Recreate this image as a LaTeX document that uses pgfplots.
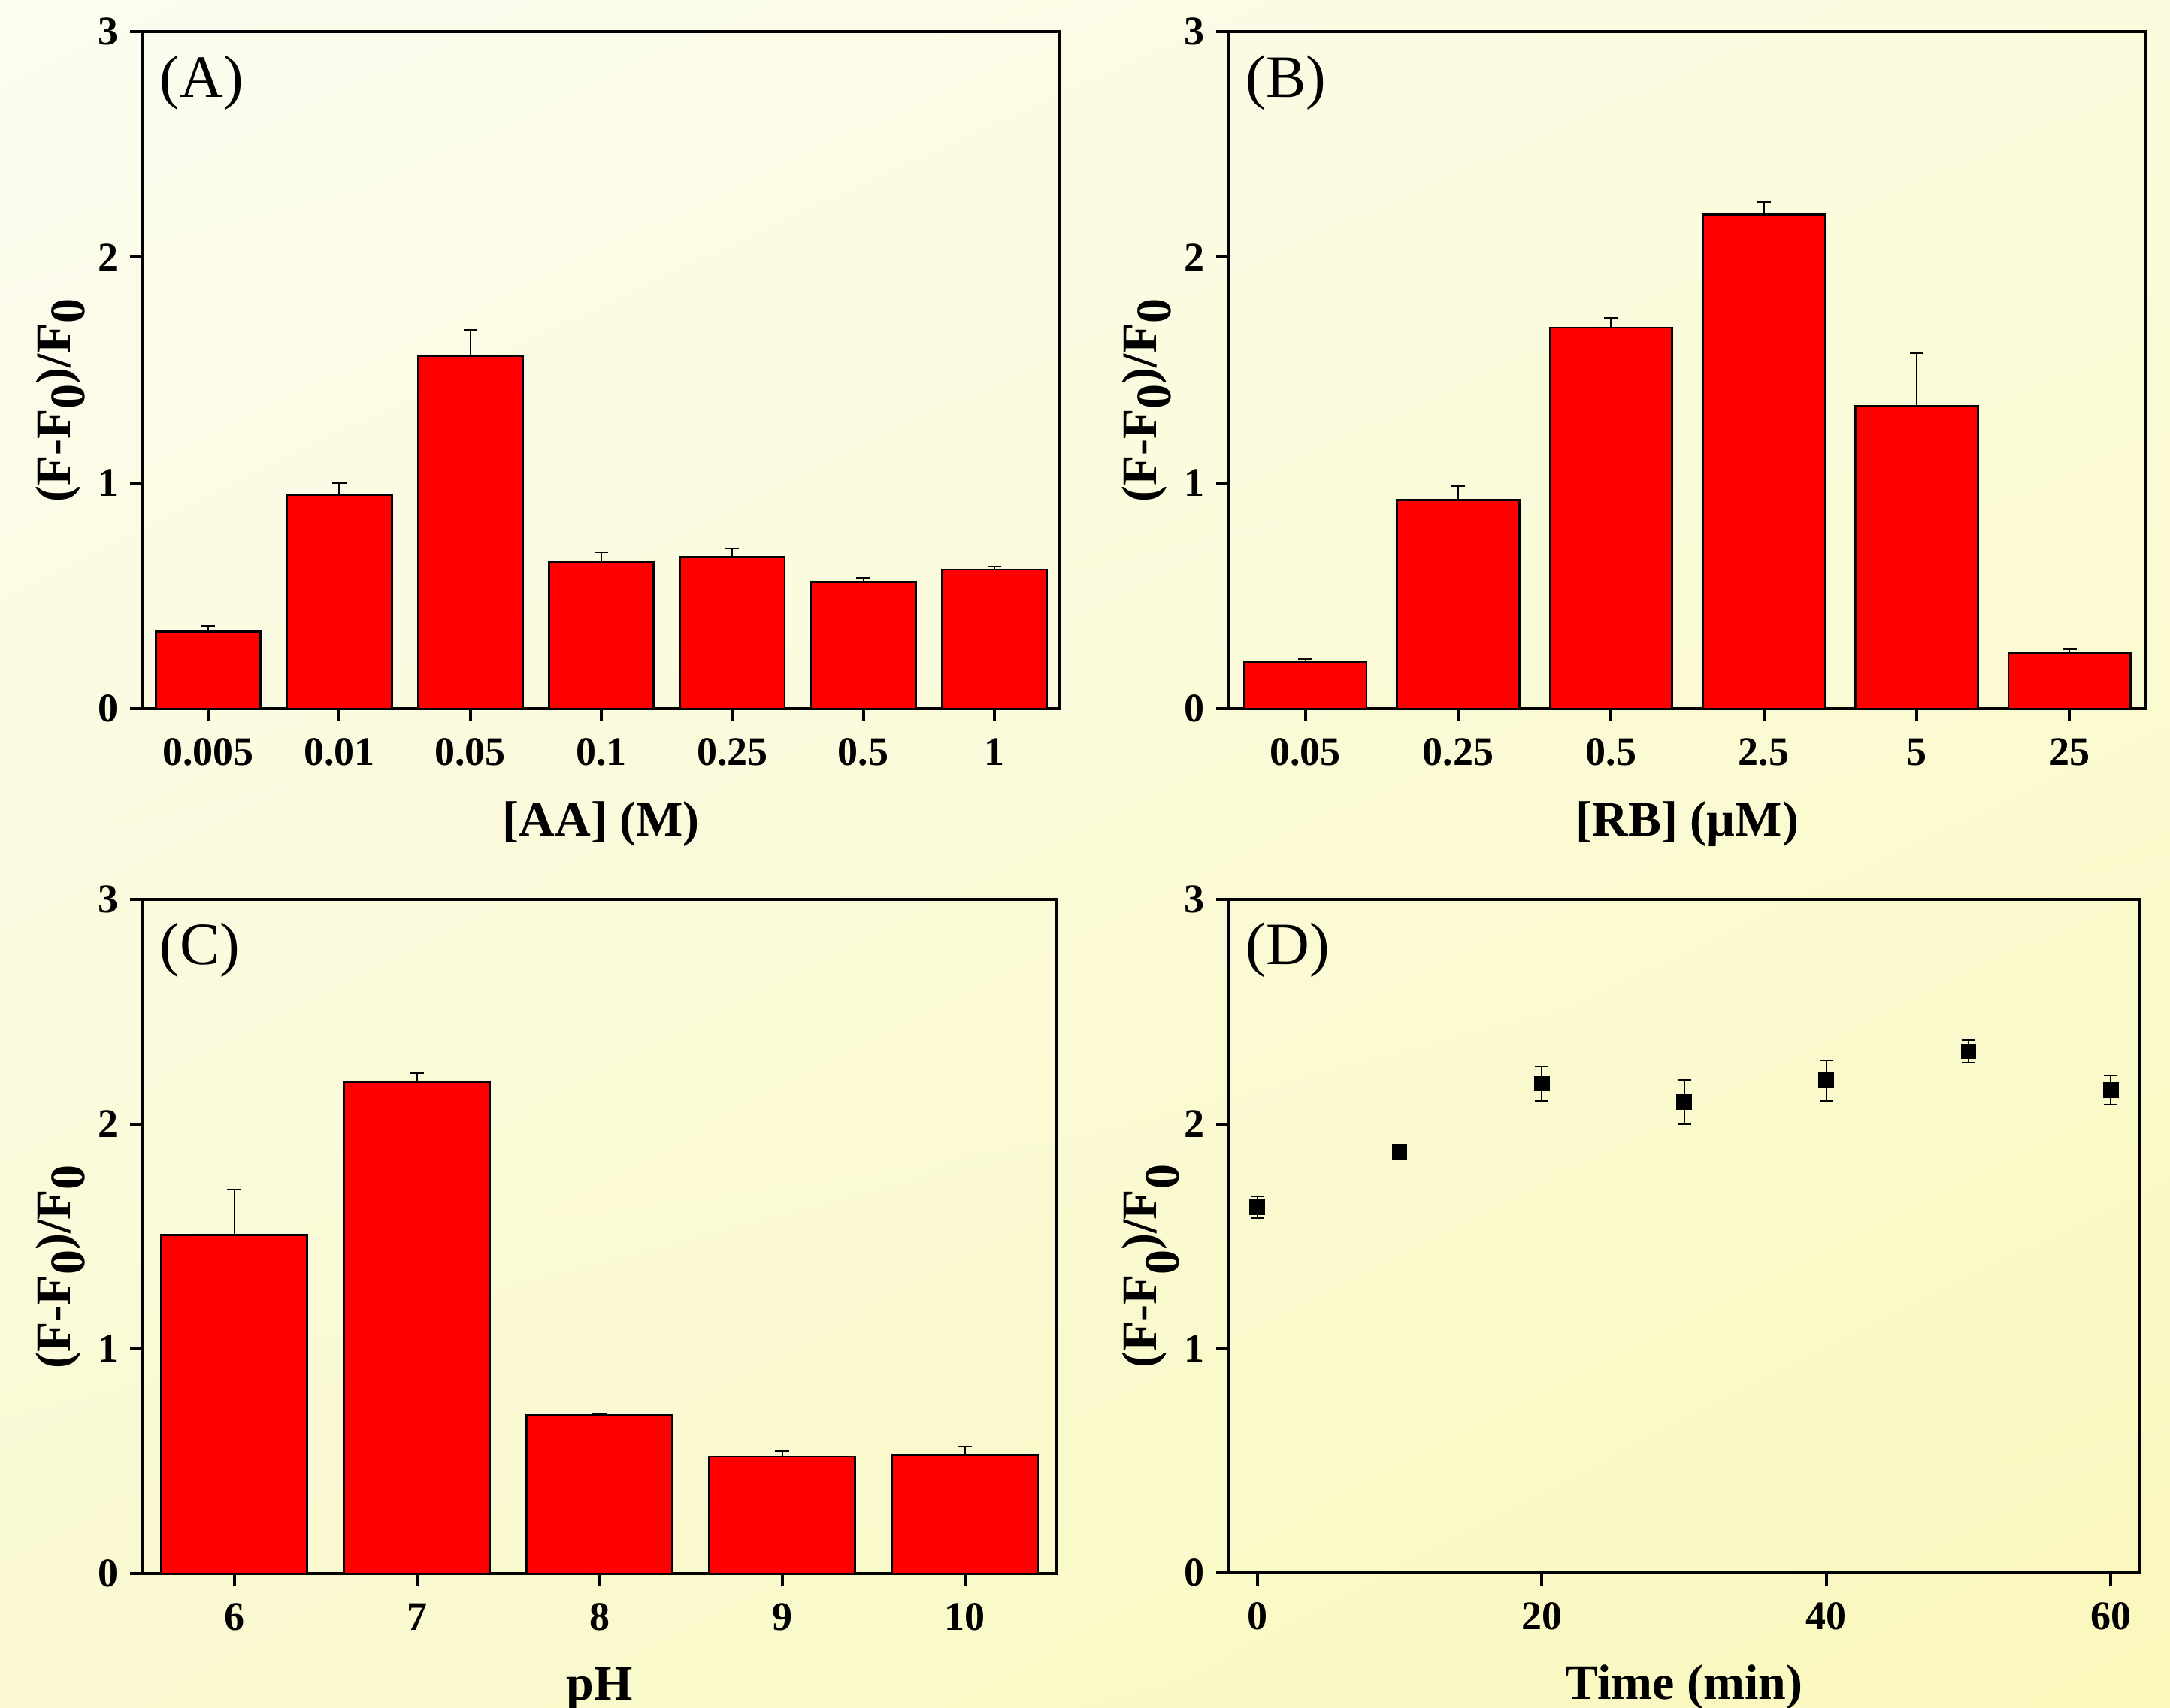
\documentclass[border=0pt]{standalone}
\usepackage{fontspec}
\setmainfont{Liberation Serif}
\usepackage{pgfplots}
\pgfplotsset{compat=1.18}
\usetikzlibrary{shadings}
\definecolor{bgUL}{RGB}{252,252,240}
\definecolor{bgUR}{RGB}{251,251,222}
\definecolor{bgLL}{RGB}{250,249,210}
\definecolor{bgLR}{RGB}{250,248,188}
\pgfplotsset{
  panel/.style={
    scale only axis,
    axis line style={line width=1pt},
    tick align=outside, xtick pos=bottom, ytick pos=left,
    major tick length=4.25pt,
    tick style={black, line width=1pt},
    ymin=0, ymax=3, ytick={0,1,2,3},
    tick label style={font=\fontsize{13.5}{13.5}\selectfont\bfseries, inner sep=0pt},
    /pgf/number format/assume math mode=true,
    xticklabel style={anchor=base, yshift=-14.5pt},
    yticklabel style={anchor=east, xshift=-3.75pt},
    label style={font=\fontsize{16.5}{16.5}\selectfont\bfseries},
    xlabel style={at={(axis description cs:0.5,-0.1876)}, anchor=base},
    ylabel style={at={(axis description cs:-0.0795,0.455)}, anchor=base},
  },
  barpl/.style={ybar, bar width=0.8, fill=red, draw=black, line width=0.7pt,
    error bars/.cd, y dir=plus, y explicit,
    error bar style={line width=0.5pt, black},
    error mark options={rotate=90, mark size=2.3pt, line width=0.5pt, black}},
}
\newcommand{\plab}[1]{\node[anchor=base west, inner sep=0pt, font=\fontsize{20}{20}\selectfont] at (axis description cs:0.018,0.9034) {#1};}
\begin{document}
\begin{tikzpicture}
\shade[upper left=bgUL, upper right=bgUR, lower left=bgLL, lower right=bgLR] (0,0) rectangle (721.75pt,568pt);
% (A)
\begin{axis}[panel, at={(47.5pt,332.25pt)}, anchor=south west,
  width=305pt, height=225.25pt,
  xmin=-0.5, xmax=6.5, xtick={0,...,6},
  xticklabels={0.005,0.01,0.05,0.1,0.25,0.5,1},
  xlabel={[AA] (M)},
  ylabel={(F-F\raisebox{-0.29em}{0})/F\raisebox{-0.29em}{0}}]
\addplot[barpl] coordinates {
  (0,0.342) +- (0,0.024)
  (1,0.948) +- (0,0.051)
  (2,1.564) +- (0,0.114)
  (3,0.652) +- (0,0.039)
  (4,0.672) +- (0,0.037)
  (5,0.562) +- (0,0.017)
  (6,0.616) +- (0,0.012)
};
\plab{(A)}
\end{axis}
% (B)
\begin{axis}[panel, at={(408.75pt,332.25pt)}, anchor=south west,
  width=305pt, height=225.25pt,
  xmin=-0.5, xmax=5.5, xtick={0,...,5},
  xticklabels={0.05,0.25,0.5,2.5,5,25},
  xlabel={[RB] (µM)},
  ylabel={(F-F\raisebox{-0.29em}{0})/F\raisebox{-0.29em}{0}}]
\addplot[barpl] coordinates {
  (0,0.208) +- (0,0.012)
  (1,0.924) +- (0,0.061)
  (2,1.688) +- (0,0.044)
  (3,2.189) +- (0,0.056)
  (4,1.341) +- (0,0.235)
  (5,0.244) +- (0,0.020)
};
\plab{(B)}
\end{axis}
% (C)
\begin{axis}[panel, at={(47.5pt,44.5pt)}, anchor=south west,
  width=303.75pt, height=224.25pt,
  xmin=5.5, xmax=10.5, xtick={6,...,10},
  xlabel={pH},
  ylabel={(F-F\raisebox{-0.29em}{0})/F\raisebox{-0.29em}{0}}]
\addplot[barpl] coordinates {
  (6,1.508) +- (0,0.201)
  (7,2.190) +- (0,0.037)
  (8,0.706) +- (0,0.003)
  (9,0.522) +- (0,0.024)
  (10,0.527) +- (0,0.038)
};
\plab{(C)}
\end{axis}
% (D)
\begin{axis}[panel, at={(408.75pt,44.75pt)}, anchor=south west,
  width=302.75pt, height=224pt,
  xmin=-2, xmax=62, xtick={0,20,40,60},
  xlabel={Time (min)},
  ylabel={(F-F\raisebox{-0.45em}{0})/F\raisebox{-0.45em}{0}}]
\addplot[only marks, mark=square*, mark size=2.4pt, black,
  error bars/.cd, y dir=both, y explicit,
  error bar style={line width=0.5pt, black},
  error mark options={rotate=90, mark size=2.25pt, line width=0.5pt, black}]
  coordinates {
  (0,1.628) +- (0,0.048)
  (10,1.873) +- (0,0.015)
  (20,2.180) +- (0,0.078)
  (30,2.098) +- (0,0.098)
  (40,2.194) +- (0,0.091)
  (50,2.324) +- (0,0.050)
  (60,2.151) +- (0,0.064)
};
\plab{(D)}
\end{axis}
\pgfresetboundingbox
\path (0,0) rectangle (721.75pt,568pt);
\end{tikzpicture}
\end{document}
